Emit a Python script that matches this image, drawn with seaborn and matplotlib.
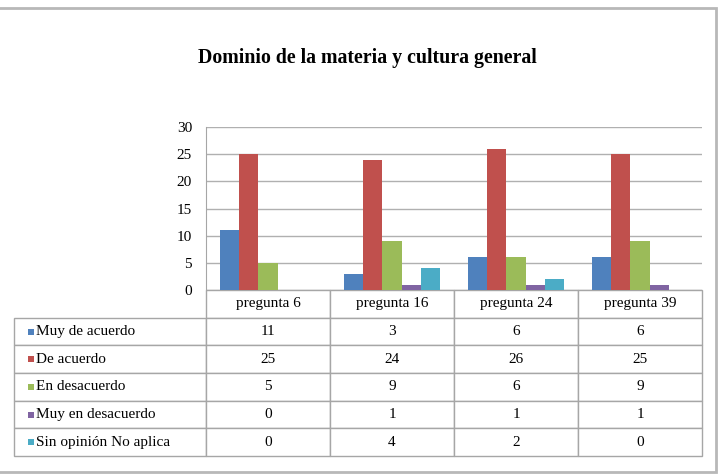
import matplotlib
matplotlib.use("Agg")
import matplotlib.pyplot as plt
from matplotlib.patches import Rectangle
from matplotlib.table import Table
import numpy as np
import pandas as pd
import seaborn as sns

preguntas = ["pregunta 6", "pregunta 16", "pregunta 24", "pregunta 39"]
respuestas = ["Muy de acuerdo", "De acuerdo", "En desacuerdo",
              "Muy en desacuerdo", "Sin opinión No aplica"]
muy_de_acuerdo = [11, 3, 6, 6]
de_acuerdo = [25, 24, 26, 25]
en_desacuerdo = [5, 9, 6, 9]
muy_en_desacuerdo = [0, 1, 1, 1]
sin_opinion = [0, 4, 2, 0]
colores = ["#4F81BD", "#C0504D", "#9BBB59", "#8064A2", "#4BACC6"]

series = [muy_de_acuerdo, de_acuerdo, en_desacuerdo, muy_en_desacuerdo, sin_opinion]
df = pd.DataFrame([
    {"pregunta": p, "respuesta": r, "valor": v}
    for r, vals in zip(respuestas, series)
    for p, v in zip(preguntas, vals)
])

sns.set_style("white")
FONT = ["Liberation Serif", "DejaVu Serif"]
plt.rcParams.update({
    "font.family": FONT,
    "text.color": "black",
    "ytick.color": "black",
})

W, H = 728, 474
fig = plt.figure(figsize=(W / 100, H / 100), dpi=100)
ax = fig.add_axes([206 / W, 1 - 290 / H, (702 - 206) / W, (290 - 127) / H])

sns.barplot(data=df, x="pregunta", y="valor", hue="respuesta",
            order=preguntas, hue_order=respuestas, palette=colores,
            width=0.77, gap=0, linewidth=0, saturation=1, legend=False, ax=ax)

ax.set_ylim(0, 30)
ax.set_yticks(range(0, 31, 5))
ax.set_xlim(-0.5, len(preguntas) - 0.5)
ax.set_xticks([])
ax.set_xlabel("")
ax.set_ylabel("")
ax.tick_params(axis="y", labelsize=11, length=0, pad=10, labelcolor="black")
ax.grid(axis="y", color="#b0b0b0", linewidth=1)
ax.set_axisbelow(True)
for side in ["top", "right", "bottom"]:
    ax.spines[side].set_visible(False)
ax.spines["left"].set_color("#a6a6a6")

# tabla de datos bajo el grafico
label_w, col_w, row_h = 192, 124, 1
tbl = Table(ax, bbox=[(14 - 206) / 496, -(456 - 290) / 163,
                      (702 - 14) / 496, (456 - 290) / 163])
hdr = tbl.add_cell(0, 0, label_w, row_h, text="")
hdr.visible_edges = ""
for j, p in enumerate(preguntas):
    tbl.add_cell(0, j + 1, col_w, row_h, text=p, loc="center")
for i, (r, vals) in enumerate(zip(respuestas, series)):
    c = tbl.add_cell(i + 1, 0, label_w, row_h, text=r, loc="left")
    c.PAD = 0.115
    for j, v in enumerate(vals):
        tbl.add_cell(i + 1, j + 1, col_w, row_h, text=str(v), loc="center")
tbl.auto_set_font_size(False)
for cell in tbl.get_celld().values():
    cell.set_edgecolor("#a6a6a6")
    cell.set_linewidth(1)
    cell.get_text().set_fontsize(11)
    cell.get_text().set_fontfamily(FONT)
    cell.get_text().set_color("black")
ax.add_table(tbl)

# marcadores de color de la leyenda
rh = (456 - 290) / 163 / 6
for i, col in enumerate(colores):
    ax.scatter([(30.5 - 206) / 496], [-rh * (i + 1.5)], marker="s", s=18,
               color=col, transform=ax.transAxes, clip_on=False, linewidths=0)

fig.text(367 / W, 1 - 58 / H, "Dominio de la materia y cultura general",
         ha="center", va="center", fontsize=14.3, fontweight="bold",
         color="black")

fig.add_artist(Rectangle((-0.01, 2 / H), 716 / W + 0.01, (472 - 8) / H,
                         transform=fig.transFigure, fill=False,
                         edgecolor="#b8b8b8", linewidth=2))

fig.savefig("out.png", dpi=100)
